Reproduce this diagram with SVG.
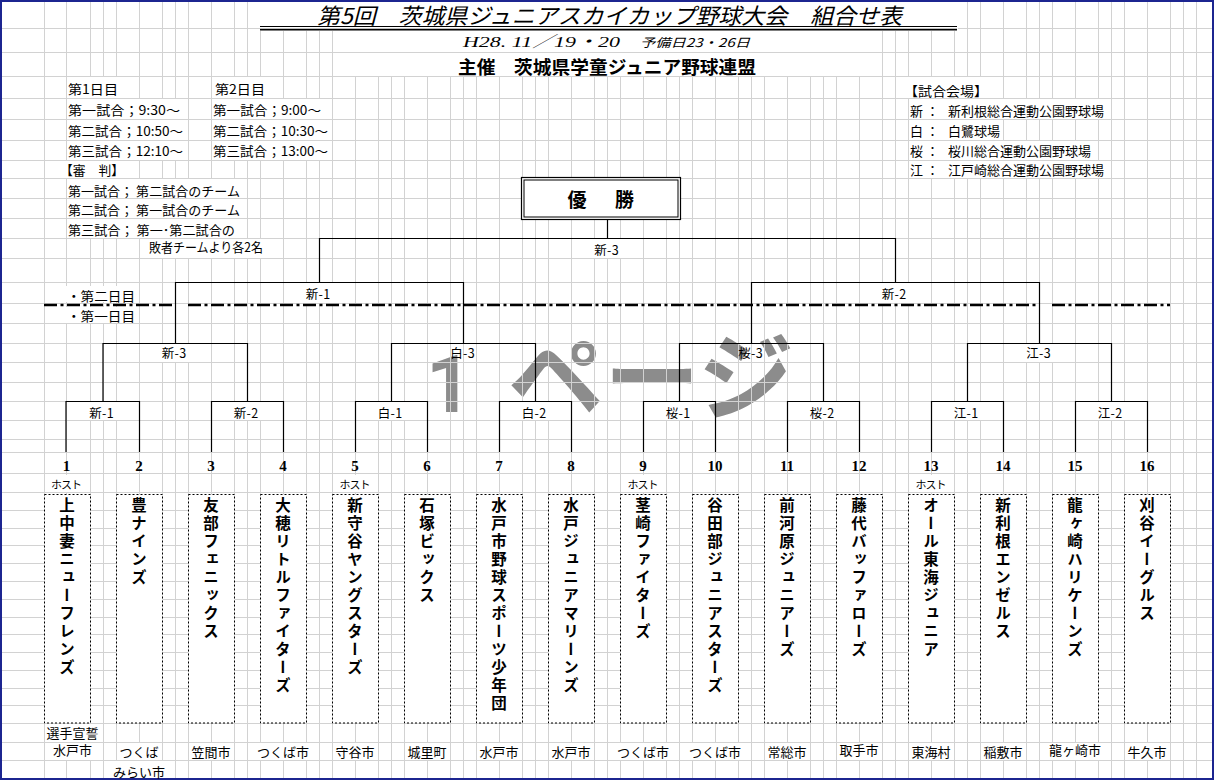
<svg xmlns="http://www.w3.org/2000/svg" width="1216" height="784" viewBox="0 0 1216 784">
<style>
.t{font-family:"Noto Sans CJK JP","Noto Sans",sans-serif;fill:#000}
.s13{font-size:13px}
.lb{font-size:12.5px;text-anchor:middle}
.num{font-family:"Liberation Serif","Noto Sans CJK JP",serif;font-weight:700;font-size:15px;text-anchor:middle}
.host{font-size:11px;text-anchor:middle}
.city{font-size:13px;text-anchor:middle}
.tn{font-size:15.5px;font-weight:700;writing-mode:vertical-rl;letter-spacing:2.5px}
.br{fill:none;stroke:#000;stroke-width:1.2}
.box{fill:#fff;stroke:#000;stroke-width:1;stroke-dasharray:2 2}
.wh{fill:#fff}
.wm1{font-family:Roboto,"Open Sans",sans-serif;font-size:80px;font-weight:700}
.wm2{font-family:"Noto Sans CJK JP",sans-serif;font-size:96px;font-weight:700}
</style>
<rect x="0" y="0" width="1216" height="784" fill="#fff"/>
<g id="watermark" fill="#8c8c8c">
<text y="412"><tspan class="wm1" x="449" text-anchor="middle">1</tspan><tspan class="wm2" x="508">ページ</tspan></text>
</g>
<g id="grid" stroke="#d2d2d2" stroke-width="1" fill="none">
<path d="M44.5 2V778M66.5 2V778M90.5 2V778M103.5 2V778M116.5 2V778M139.5 2V778M162.5 2V778M175.5 2V778M188.5 2V778M211.5 2V778M234.5 2V778M247.5 2V778M260.5 2V778M283.5 2V778M306.5 2V778M319.5 2V778M332.5 2V778M355.5 2V778M378.5 2V778M391.5 2V778M404.5 2V778M427.5 2V778M450.5 2V778M463.5 2V778M476.5 2V778M499.5 2V778M522.5 2V778M535.5 2V778M548.5 2V778M571.5 2V778M594.5 2V778M607.5 2V778M620.5 2V778M643.5 2V778M666.5 2V778M679.5 2V778M692.5 2V778M715.5 2V778M738.5 2V778M751.5 2V778M764.5 2V778M787.5 2V778M810.5 2V778M823.5 2V778M836.5 2V778M859.5 2V778M882.5 2V778M895.5 2V778M908.5 2V778M931.5 2V778M954.5 2V778M967.5 2V778M980.5 2V778M1003.5 2V778M1026.5 2V778M1039.5 2V778M1052.5 2V778M1075.5 2V778M1098.5 2V778M1111.5 2V778M1124.5 2V778M1147.5 2V778M1170.5 2V778M1183.5 2V778M1196.5 2V778"/>
<path d="M2 28.5H1212M2 52.5H1212M2 76.5H1212M2 98.5H1212M2 119.5H1212M2 140.5H1212M2 160.5H1212M2 178.5H1212M2 198.5H1212M2 218.5H1212M2 238.5H1212M2 258.5H1212M2 282.5H1212M2 303.5H1212M2 323.5H1212M2 343.5H1212M2 362.5H1212M2 382.5H1212M2 401.5H1212M2 420.5H1212M2 439.5H1212M2 452.5H1212M2 473.5H1212M2 492.5H1212M2 510.5H1212M2 528.5H1212M2 545.5H1212M2 563.5H1212M2 581.5H1212M2 599.5H1212M2 617.5H1212M2 634.5H1212M2 652.5H1212M2 670.5H1212M2 688.5H1212M2 705.5H1212M2 723.5H1212M2 742.5H1212M2 760.5H1212"/>
</g>
<g id="cell-backgrounds" class="wh">
<rect x="260" y="0" width="698" height="31"/>
<rect x="333" y="31" width="549" height="21"/>
<rect x="333" y="53" width="549" height="23"/>
<rect x="67" y="77" width="52" height="21"/><rect x="214" y="77" width="52" height="21"/>
<rect x="67" y="99" width="114" height="20"/><rect x="212" y="99" width="111" height="20"/>
<rect x="67" y="120" width="117" height="20"/><rect x="212" y="120" width="117" height="20"/>
<rect x="67" y="141" width="117" height="19"/><rect x="212" y="141" width="117" height="19"/>
<rect x="60" y="161" width="63" height="17"/>
<rect x="67" y="179" width="174" height="19"/>
<rect x="67" y="199" width="174" height="19"/>
<rect x="67" y="219" width="169" height="19"/>
<rect x="148" y="239" width="116" height="19"/>
<rect x="904" y="77" width="85" height="21"/>
<rect x="909" y="99" width="196" height="20"/>
<rect x="909" y="120" width="93" height="20"/>
<rect x="909" y="141" width="183" height="19"/>
<rect x="909" y="161" width="196" height="17"/>
<rect x="66" y="286" width="70" height="16"/><rect x="66" y="307" width="70" height="16"/>
<rect x="591" y="239" width="31" height="19"/>
<rect x="303" y="283" width="31" height="20"/><rect x="879" y="283" width="31" height="20"/>
<rect x="159" y="344" width="31" height="18"/><rect x="1023" y="344" width="31" height="18"/>
<rect x="86" y="402" width="31" height="18"/><rect x="231" y="402" width="31" height="18"/><rect x="375" y="402" width="31" height="18"/><rect x="519" y="402" width="31" height="18"/><rect x="663" y="402" width="31" height="18"/><rect x="807" y="402" width="31" height="18"/><rect x="951" y="402" width="31" height="18"/><rect x="1095" y="402" width="31" height="18"/>
<rect x="50" y="475" width="34" height="17"/><rect x="338" y="475" width="34" height="17"/><rect x="626" y="475" width="34" height="17"/><rect x="914" y="475" width="34" height="17"/>
<rect x="45" y="724" width="55" height="18"/>
<rect x="51" y="743" width="43" height="17"/><rect x="118" y="743" width="43" height="17"/><rect x="190" y="743" width="43" height="17"/><rect x="257" y="743" width="53" height="17"/><rect x="334" y="743" width="43" height="17"/><rect x="406" y="743" width="43" height="17"/><rect x="478" y="743" width="43" height="17"/><rect x="550" y="743" width="43" height="17"/><rect x="617" y="743" width="53" height="17"/><rect x="689" y="743" width="53" height="17"/><rect x="766" y="743" width="43" height="17"/><rect x="838" y="743" width="43" height="17"/><rect x="910" y="743" width="43" height="17"/><rect x="982" y="743" width="43" height="17"/><rect x="1048" y="743" width="55" height="17"/><rect x="1126" y="743" width="43" height="17"/>
<rect x="111" y="761" width="57" height="17"/>
</g>
<g id="frame">
<rect x="1" y="1" width="1212" height="778" fill="none" stroke="#1c2590" stroke-width="2"/>
</g>
<g id="header" class="t">
<text x="317" y="24" font-size="22" font-style="italic" textLength="585" lengthAdjust="spacingAndGlyphs">第5回　茨城県ジュニアスカイカップ野球大会　組合せ表</text>
<line x1="260" y1="26.5" x2="957" y2="26.5" stroke="#000" stroke-width="1"/>
<line x1="260" y1="29.6" x2="957" y2="29.6" stroke="#000" stroke-width="1.7"/>
<text x="463" y="47" font-size="15.5" font-style="italic" textLength="157" lengthAdjust="spacingAndGlyphs" style="font-family:'Liberation Serif','Noto Sans CJK JP',serif">H28. 11／19・20</text>
<text x="640" y="46.5" font-size="12" font-style="italic" textLength="110" lengthAdjust="spacingAndGlyphs">予備日23・26日</text>
<text x="458" y="73.5" font-size="18" font-weight="700" textLength="298" lengthAdjust="spacingAndGlyphs">主催　茨城県学童ジュニア野球連盟</text>
</g>
<g id="schedule" class="t s13">
<text x="68" y="94" textLength="50" lengthAdjust="spacingAndGlyphs">第1日目</text>
<text x="215" y="94" textLength="50" lengthAdjust="spacingAndGlyphs">第2日目</text>
<text x="68" y="115" textLength="112" lengthAdjust="spacingAndGlyphs">第一試合；9:30～</text>
<text x="213" y="115" textLength="108" lengthAdjust="spacingAndGlyphs">第一試合；9:00～</text>
<text x="68" y="135.5" textLength="115" lengthAdjust="spacingAndGlyphs">第二試合；10:50～</text>
<text x="213" y="135.5" textLength="115" lengthAdjust="spacingAndGlyphs">第二試合；10:30～</text>
<text x="68" y="156" textLength="115" lengthAdjust="spacingAndGlyphs">第三試合；12:10～</text>
<text x="213" y="156" textLength="115" lengthAdjust="spacingAndGlyphs">第三試合；13:00～</text>
<text x="60" y="175" textLength="64" lengthAdjust="spacingAndGlyphs">【審　判】</text>
<text x="68" y="195.5" textLength="172" lengthAdjust="spacingAndGlyphs">第一試合； 第二試合のチーム</text>
<text x="68" y="215" textLength="172" lengthAdjust="spacingAndGlyphs">第二試合； 第一試合のチーム</text>
<text x="68" y="234.5" textLength="167" lengthAdjust="spacingAndGlyphs">第三試合； 第一･第二試合の</text>
<text x="149" y="251.5" textLength="114" lengthAdjust="spacingAndGlyphs">敗者チームより各2名</text>
</g>
<g id="venues" class="t s13">
<text x="904" y="95.5" textLength="84" lengthAdjust="spacingAndGlyphs">【試合会場】</text>
<text x="910" y="115.5">新</text><text x="926" y="115.5">：</text><text x="948" y="115.5">新利根総合運動公園野球場</text>
<text x="910" y="135.5">白</text><text x="926" y="135.5">：</text><text x="948" y="135.5">白鷺球場</text>
<text x="910" y="155.5">桜</text><text x="926" y="155.5">：</text><text x="948" y="155.5">桜川総合運動公園野球場</text>
<text x="910" y="175">江</text><text x="926" y="175">：</text><text x="948" y="175">江戸崎総合運動公園野球場</text>
</g>
<g id="day-divider">
<path d="M44 305H176M188 305H1039M1052 305H1170" fill="none" stroke="#000" stroke-width="2.5" stroke-dasharray="13 3.5 3 3.5"/>
<text class="t s13" x="67" y="300.5" textLength="68" lengthAdjust="spacingAndGlyphs">・第二日目</text>
<text class="t s13" x="67" y="320.5" textLength="68" lengthAdjust="spacingAndGlyphs">・第一日目</text>
</g>
<g id="connectors" class="br">
<path d="M66 452V401.5H139.5V452M211.5 452V401.5H283.5V452M355.5 452V401.5H427.5V452M499.5 452V401.5H571.5V452M643.5 452V401.5H715.5V452M787.5 452V401.5H859.5V452M931.5 452V401.5H1003.5V452M1075.5 452V401.5H1147.5V452"/>
<path d="M103 401.5V343.5H247.5V401.5M391.5 401.5V343.5H535.5V401.5M679.5 401.5V343.5H823.5V401.5M967.5 401.5V343.5H1111.5V401.5"/>
<path d="M175.5 343.5V282.5H463.5V343.5M751.5 343.5V282.5H1039.5V343.5"/>
<path d="M319.5 282.5V238.5H895.5V282.5M607.5 219V238.5"/>
</g>
<g id="champion">
<rect x="521.5" y="177.5" width="159" height="42" fill="#fff" stroke="#000" stroke-width="1.2"/>
<rect x="524" y="180" width="154" height="37" fill="none" stroke="#000" stroke-width="1"/>
<text class="t" x="567.5" y="206.5" font-size="19" font-weight="700" letter-spacing="4.75">優　勝</text>
</g>
<g id="match-labels" class="t lb">
<text x="606.5" y="254.5" textLength="24.5">新-3</text>
<text x="318" y="299" textLength="24.5">新-1</text>
<text x="894" y="299" textLength="24.5">新-2</text>
<text x="174" y="357.5" textLength="24.5">新-3</text>
<text x="462.5" y="357.5" textLength="24.5">白-3</text>
<text x="750.5" y="357.5" textLength="24.5">桜-3</text>
<text x="1038.5" y="357.5" textLength="24.5">江-3</text>
<text x="101.5" y="417.5" textLength="24.5">新-1</text>
<text x="246" y="417.5" textLength="24.5">新-2</text>
<text x="390" y="417.5" textLength="24.5">白-1</text>
<text x="534" y="417.5" textLength="24.5">白-2</text>
<text x="678" y="417.5" textLength="24.5">桜-1</text>
<text x="822" y="417.5" textLength="24.5">桜-2</text>
<text x="966" y="417.5" textLength="24.5">江-1</text>
<text x="1110" y="417.5" textLength="24.5">江-2</text>
</g>
<g id="seeds" class="num">
<text x="66.5" y="471">1</text><text x="139" y="471">2</text><text x="211" y="471">3</text><text x="283" y="471">4</text><text x="355" y="471">5</text><text x="427" y="471">6</text><text x="499" y="471">7</text><text x="571" y="471">8</text><text x="643" y="471">9</text><text x="715" y="471">10</text><text x="787" y="471">11</text><text x="859" y="471">12</text><text x="931" y="471">13</text><text x="1003" y="471">14</text><text x="1075" y="471">15</text><text x="1147" y="471">16</text>
</g>
<g id="hosts" class="t host">
<text x="66.5" y="489" textLength="31">ホスト</text><text x="355" y="489" textLength="31">ホスト</text><text x="643" y="489" textLength="31">ホスト</text><text x="931" y="489" textLength="31">ホスト</text>
</g>
<g id="team-1"><rect class="box" x="44.5" y="494.5" width="46" height="228.5"/><text class="t tn" x="67" y="497">上中妻ニューフレンズ</text></g>
<g id="team-2"><rect class="box" x="116.5" y="494.5" width="46" height="228.5"/><text class="t tn" x="139" y="497">豊ナインズ</text></g>
<g id="team-3"><rect class="box" x="188.5" y="494.5" width="46" height="228.5"/><text class="t tn" x="211" y="497">友部フェニックス</text></g>
<g id="team-4"><rect class="box" x="260.5" y="494.5" width="46" height="228.5"/><text class="t tn" x="283" y="497">大穂リトルファイターズ</text></g>
<g id="team-5"><rect class="box" x="332.5" y="494.5" width="46" height="228.5"/><text class="t tn" x="355" y="497">新守谷ヤングスターズ</text></g>
<g id="team-6"><rect class="box" x="404.5" y="494.5" width="46" height="228.5"/><text class="t tn" x="427" y="497">石塚ビックス</text></g>
<g id="team-7"><rect class="box" x="476.5" y="494.5" width="46" height="228.5"/><text class="t tn" x="499" y="497">水戸市野球スポーツ少年団</text></g>
<g id="team-8"><rect class="box" x="548.5" y="494.5" width="46" height="228.5"/><text class="t tn" x="571" y="497">水戸ジュニアマリーンズ</text></g>
<g id="team-9"><rect class="box" x="620.5" y="494.5" width="46" height="228.5"/><text class="t tn" x="643" y="497">茎崎ファイターズ</text></g>
<g id="team-10"><rect class="box" x="692.5" y="494.5" width="46" height="228.5"/><text class="t tn" x="715" y="497">谷田部ジュニアスターズ</text></g>
<g id="team-11"><rect class="box" x="764.5" y="494.5" width="46" height="228.5"/><text class="t tn" x="787" y="497">前河原ジュニアーズ</text></g>
<g id="team-12"><rect class="box" x="836.5" y="494.5" width="46" height="228.5"/><text class="t tn" x="859" y="497">藤代バッファローズ</text></g>
<g id="team-13"><rect class="box" x="908.5" y="494.5" width="46" height="228.5"/><text class="t tn" x="931" y="497">オール東海ジュニア</text></g>
<g id="team-14"><rect class="box" x="980.5" y="494.5" width="46" height="228.5"/><text class="t tn" x="1003" y="497">新利根エンゼルス</text></g>
<g id="team-15"><rect class="box" x="1052.5" y="494.5" width="46" height="228.5"/><text class="t tn" x="1075" y="497">龍ヶ崎ハリケーンズ</text></g>
<g id="team-16"><rect class="box" x="1124.5" y="494.5" width="46" height="228.5"/><text class="t tn" x="1147" y="497">刈谷イーグルス</text></g>
<g id="cities" class="t city">
<text x="72.5" y="738">選手宣誓</text>
<text x="72.5" y="755">水戸市</text>
<text x="139" y="757">つくば</text><text x="139" y="776.5">みらい市</text>
<text x="211" y="757">笠間市</text>
<text x="283" y="757">つくば市</text>
<text x="355" y="757">守谷市</text>
<text x="427" y="757">城里町</text>
<text x="499" y="757">水戸市</text>
<text x="571" y="757">水戸市</text>
<text x="643" y="757">つくば市</text>
<text x="715" y="757">つくば市</text>
<text x="787" y="757">常総市</text>
<text x="859" y="755">取手市</text>
<text x="931" y="757">東海村</text>
<text x="1003" y="757">稲敷市</text>
<text x="1075" y="755">龍ヶ崎市</text>
<text x="1147" y="757">牛久市</text>
</g>
</svg>
